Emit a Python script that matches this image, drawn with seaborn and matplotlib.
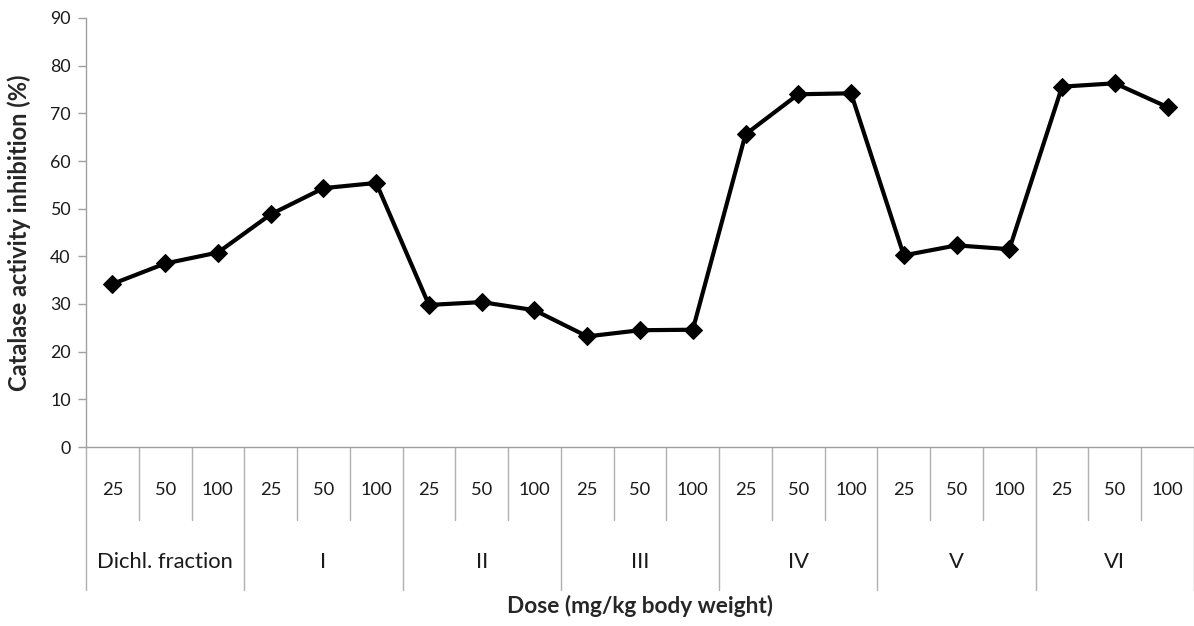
import numpy as np
import pandas as pd
import matplotlib
matplotlib.use("Agg")
import matplotlib.pyplot as plt
import matplotlib.transforms as mtransforms
import seaborn as sns

groups = ["Dichl. fraction", "I", "II", "III", "IV", "V", "VI"]
doses = ["25", "50", "100"]
inhibition = [34.2, 38.5, 40.8, 48.8, 54.3, 55.4,
              29.8, 30.4, 28.7, 23.2, 24.5, 24.6,
              65.6, 74.0, 74.2, 40.2, 42.3, 41.5,
              75.6, 76.3, 71.3]

sns.set_style("white")
plt.rcParams['font.family'] = ['Lato', 'DejaVu Sans']

labels_dose = [d for g in groups for d in doses]
labels_group = [g for g in groups for d in doses]
df = pd.DataFrame({"pos": np.arange(len(inhibition)), "value": inhibition,
                   "dose": labels_dose, "group": labels_group})

fig = plt.figure(figsize=(11.94, 6.26), dpi=100)
ax = fig.add_axes([86/1194, 1-447/626, 1-86/1194, 429/626])

sns.lineplot(data=df, x="pos", y="value", ax=ax, color="black", linewidth=3,
             marker="D", markersize=9.5, markeredgecolor="black", sort=False)

n = len(inhibition)
ax.set_xlim(-0.5, n - 0.5)
ax.set_ylim(0, 90)
ax.set_yticks(np.arange(0, 91, 10))
ax.set_xticks([])
ax.tick_params(axis="y", labelsize=12.8, length=6, width=1, color="#a0a0a0",
               direction="out", pad=5, left=True, labelcolor="#1a1a1a")
for s in ["top", "right"]:
    ax.spines[s].set_visible(False)
for s in ["left", "bottom"]:
    ax.spines[s].set_color("#a0a0a0")
    ax.spines[s].set_linewidth(1)

ax.set_ylabel("Catalase activity inhibition (%)", fontsize=17, fontweight="bold")
ax.yaxis.set_label_coords(-55/1108, 0.5)
ax.set_xlabel("")

trans = mtransforms.blended_transform_factory(ax.transData, ax.transAxes)
ax_h = 429.0
y_dose = -(520 - 447) / ax_h
y_group = -(590 - 447) / ax_h
for i in range(n + 1):
    x = i - 0.5
    ybot = y_group if i % 3 == 0 else y_dose
    ax.plot([x, x], [0, ybot], transform=trans, color="#b0b0b0", lw=1,
            clip_on=False)

for i, d in enumerate(labels_dose):
    ax.text(i, -(490 - 447) / ax_h, d, transform=trans, ha="center",
            va="center", fontsize=13.2, color="#1a1a1a")
for j, g in enumerate(groups):
    ax.text(3 * j + 1, -(562 - 447) / ax_h, g, transform=trans, ha="center",
            va="center", fontsize=15.8, color="#1a1a1a")

ax.text(0.5 * (n - 1), -(606 - 447) / ax_h, "Dose (mg/kg body weight)",
        transform=trans, ha="center", va="center", fontsize=16.3,
        fontweight="bold")

fig.savefig("out.png", dpi=100)
